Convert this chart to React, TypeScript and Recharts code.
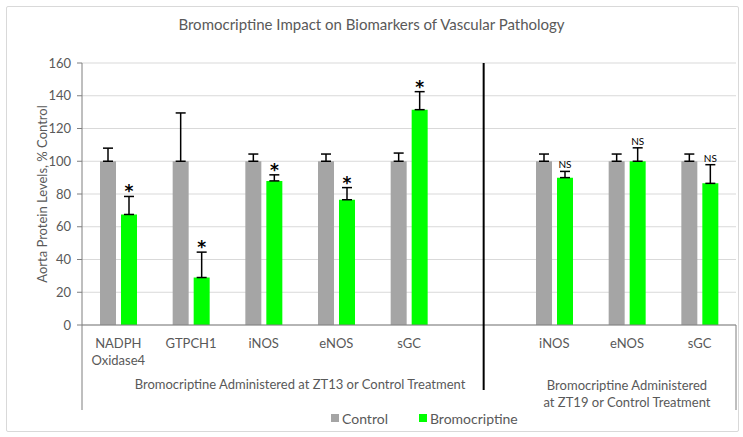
import React from "react";
import {
  BarChart,
  Bar,
  XAxis,
  YAxis,
  CartesianGrid,
  ErrorBar,
  LabelList,
  Legend,
} from "recharts";

const categories = ["NADPH\nOxidase4", "GTPCH1", "iNOS", "eNOS", "sGC", "", "iNOS", "eNOS", "sGC"];
// the empty slot (index 5) is a gap between the two experiment groups
const controlValues = [100, 100, 100, 100, 100, 0, 100, 100, 100];
const controlErrors = [8, 29.5, 4.4, 4.4, 5, null, 4.4, 4.4, 4.4];
const bromoValues = [67.5, 29, 88, 76.5, 131.5, 0, 90, 100, 86.5];
const bromoErrors = [11, 15.5, 3.7, 7.4, 11, null, 3.8, 8.2, 11.4];
const marks = ["*", "*", "*", "*", "*", "", "NS", "NS", "NS"];
const yTicks = [0, 20, 40, 60, 80, 100, 120, 140, 160];

const groupLabels = [
  ["Bromocriptine Administered at ZT13 or Control Treatment"],
  ["Bromocriptine Administered", "at ZT19 or Control Treatment"],
];

const data = categories.map((name, i) => ({
  name,
  slot: String(i),
  control: controlValues[i],
  controlErr: controlErrors[i] == null ? undefined : [0, controlErrors[i]],
  bromo: bromoValues[i],
  bromoErr: bromoErrors[i] == null ? undefined : [0, bromoErrors[i]],
}));

const W = 743;
const H = 437;
const FONT = "Lato, 'Open Sans', sans-serif";
const TEXT = "#595959";
const AXIS = "#7f7f7f";
const GRAY = "#a5a5a5";
const GREEN = "#00ff00";
const PLOT_LEFT = 82;
const PLOT_RIGHT = 736;
const PLOT_TOP = 63;
const AXIS_Y = 325;
const BAND = (PLOT_RIGHT - PLOT_LEFT) / categories.length;

function CategoryTick(props: any) {
  const { x, payload } = props;
  const idx = payload.index ?? props.index;
  const lines = String(payload.value).split("\n");
  const left = x - BAND / 2;
  return (
    <g>
      <text x={x} y={AXIS_Y + 23} textAnchor="middle" fill={TEXT} fontSize={13} fontFamily={FONT}>
        {lines.map((l, k) => (
          <tspan key={k} x={x} dy={k === 0 ? 0 : 17}>
            {l}
          </tspan>
        ))}
      </text>
      {idx === 0 && (
        <g>
          <line x1={left} x2={left} y1={AXIS_Y} y2={410} stroke={AXIS} strokeWidth={1} />
          <line x1={left + 9 * BAND} x2={left + 9 * BAND} y1={AXIS_Y} y2={410} stroke={AXIS} strokeWidth={1} />
          <line
            x1={left + 5.5 * BAND + 2}
            x2={left + 5.5 * BAND + 2}
            y1={PLOT_TOP}
            y2={390}
            stroke="#000"
            strokeWidth={2}
          />
          <text x={left + 3 * BAND} y={389} textAnchor="middle" fill={TEXT} fontSize={13} fontFamily={FONT}>
            {groupLabels[0][0]}
          </text>
          <text x={left + 7.5 * BAND} y={390} textAnchor="middle" fill={TEXT} fontSize={13} fontFamily={FONT}>
            <tspan x={left + 7.5 * BAND} dy={0}>{groupLabels[1][0]}</tspan>
            <tspan x={left + 7.5 * BAND} dy={17}>{groupLabels[1][1]}</tspan>
          </text>
        </g>
      )}
    </g>
  );
}

// significance marks sit just above the top of each error bar
function MarkLabel(props: any) {
  const { x, y, width, height, value } = props;
  const i = Number(value);
  const v = bromoValues[i];
  const mark = marks[i];
  if (!mark || !v) return null;
  const e = bromoErrors[i] ?? 0;
  const top = y - (e * height) / v;
  const star = mark === "*";
  return (
    <text
      x={x + width / 2}
      y={star ? top + 1 : top - 3}
      textAnchor="middle"
      fontSize={star ? 17 : 10}
      fontWeight={star ? 700 : 400}
      fill="#000"
      fontFamily={star ? "'DejaVu Sans', sans-serif" : FONT}
    >
      {mark}
    </text>
  );
}

function LegendContent() {
  const item = (color: string, label: string) => (
    <span style={{ display: "inline-flex", alignItems: "center", marginRight: 31 }}>
      <span style={{ width: 8, height: 8, background: color, display: "inline-block", marginRight: 3 }} />
      <span>{label}</span>
    </span>
  );
  return (
    <div
      style={{
        height: 26,
        paddingLeft: 331,
        display: "flex",
        alignItems: "center",
        fontFamily: FONT,
        fontSize: 14,
        color: TEXT,
        marginTop: -6,
      }}
    >
      {item(GRAY, "Control")}
      {item(GREEN, "Bromocriptine")}
    </div>
  );
}

export default function App() {
  return (
    <div style={{ position: "absolute", left: 0, top: 0, width: W, height: H, background: "#fff" }}>
      <div
        style={{
          position: "absolute",
          left: 6,
          top: 6,
          width: 731,
          height: 424,
          border: "1px solid #d9d9d9",
          borderRadius: 2,
        }}
      />
      <div
        style={{
          position: "absolute",
          left: 0,
          top: 15,
          width: W,
          textAlign: "center",
          fontFamily: FONT,
          fontSize: 15,
          color: TEXT,
        }}
      >
        Bromocriptine Impact on Biomarkers of Vascular Pathology
      </div>
      <BarChart
        width={W}
        height={H}
        data={data}
        margin={{ top: PLOT_TOP, right: W - PLOT_RIGHT, bottom: 0, left: 0 }}
        barSize={16}
        barGap={5}
      >
        <CartesianGrid vertical={false} stroke="#d9d9d9" />
        <XAxis
          dataKey="name"
          height={86}
          interval={0}
          tickLine={false}
          axisLine={{ stroke: AXIS }}
          tick={CategoryTick}
        />
        <YAxis
          width={PLOT_LEFT}
          domain={[0, 160]}
          ticks={yTicks}
          tickSize={5}
          tickMargin={6}
          tick={{ fill: TEXT, fontSize: 13, fontFamily: FONT }}
          axisLine={{ stroke: AXIS }}
          tickLine={{ stroke: AXIS }}
          label={{
            value: "Aorta Protein Levels, % Control",
            angle: -90,
            position: "center",
            dx: 1,
            fill: TEXT,
            fontSize: 13,
            fontFamily: FONT,
          }}
        />
        <Legend verticalAlign="bottom" height={26} content={LegendContent} wrapperStyle={{ left: 0, width: W }} />
        <Bar dataKey="control" name="Control" fill={GRAY} isAnimationActive={false}>
          <ErrorBar dataKey="controlErr" direction="y" width={5} strokeWidth={1.5} stroke="#000" isAnimationActive={false} />
        </Bar>
        <Bar dataKey="bromo" name="Bromocriptine" fill={GREEN} isAnimationActive={false}>
          <ErrorBar dataKey="bromoErr" direction="y" width={5} strokeWidth={1.5} stroke="#000" isAnimationActive={false} />
          <LabelList dataKey="slot" content={MarkLabel} />
        </Bar>
      </BarChart>
    </div>
  );
}
